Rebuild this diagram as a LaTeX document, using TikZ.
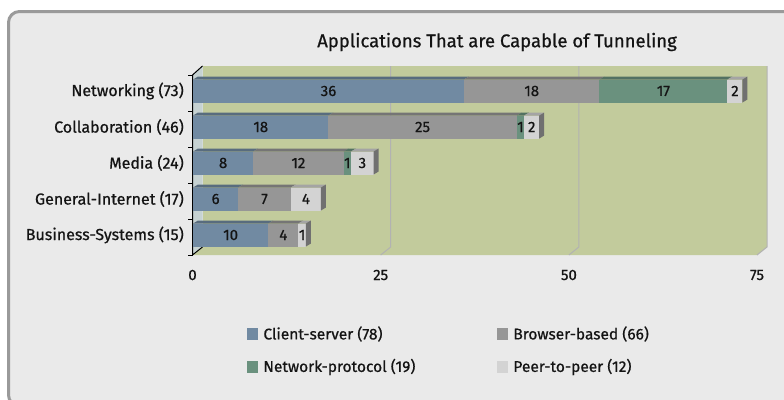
\documentclass[tikz,border=0pt]{standalone}
\usepackage{fontspec}
\setmainfont{Fira Sans}[UprightFeatures={FakeBold=0.7}]
\usepackage{xcolor}
\usetikzlibrary{calc}
\usetikzlibrary{positioning}

\definecolor{fond}{HTML}{EAEAEA}
\definecolor{cadre}{HTML}{9A9A9A}
\definecolor{mur}{HTML}{C2CB9C}
\definecolor{murgauche}{HTML}{C6D2D2}
\definecolor{grille}{HTML}{B2B2B2}
\definecolor{cscol}{HTML}{718AA2}
\definecolor{bbcol}{HTML}{969696}
\definecolor{npcol}{HTML}{6A917E}
\definecolor{ppcol}{HTML}{D3D3D3}
\definecolor{texte}{HTML}{141414}

\def\bu{7.527pt}

\begin{document}
\begin{tikzpicture}[x=1pt,y=-1pt]

\tikzset{
    seg/.style = {
    minimum height=23pt,
    inner sep=0pt,
    outer sep=0pt,
    text=texte,
    font=\fontsize{15}{17}\selectfont
    }
}

\tikzstyle{cs}=[fill=cscol, seg]
\tikzstyle{bb}=[fill=bbcol, seg]
\tikzstyle{np}=[fill=npcol, seg]
\tikzstyle{pp}=[fill=ppcol, seg]
\tikzstyle{cat}=[anchor=east, inner sep=0pt, text=texte, font=\fontsize{16}{18}\selectfont]
\tikzstyle{axe}=[inner sep=0pt, text=texte, font=\fontsize{15}{17}\selectfont]
\tikzstyle{carre}=[minimum width=11pt, minimum height=12pt, inner sep=0pt]
\tikzstyle{legende}=[inner sep=0pt, text=texte, font=\fontsize{15.5}{17}\selectfont]

\useasboundingbox (0,0) rectangle (784,399);
\clip (0,0) rectangle (784,399);
\fill[white] (0,0) rectangle (784,399);
\draw[line width=3pt, draw=cadre, fill=fond, rounded corners=11pt] (8.5,11.5) rectangle (812,406);

\node (titre) [text=texte, font=\fontsize{18.5}{21}\selectfont] at (497,42) {Applications That are Capable of Tunneling};

% murs du graphique
\fill[murgauche] (192.5,75) -- (202.5,66) -- (202.5,247) -- (192.5,255) -- cycle;
\fill[mur] (202.5,66) rectangle (767,247);
\fill[mur] (192.5,255) -- (202.5,247) -- (767,247) -- (757,255) -- cycle;
\foreach \v in {25,50,75}
    \draw[grille, line width=1pt] ({192.5+\v*7.527},255) -- ++(10,-8) -- ++(0,-181);
\draw[line width=1pt] (202.5,66) -- (192.5,75) -- (192.5,255) -- (202.5,247);
\foreach \t in {0,...,5}
    \draw[line width=1pt] (188,75+36*\t) -- (192.5,75+36*\t);

\node (ax-0) [axe] at (192.5,275) {0};
\node (ax-25) [axe] at (380.7,275) {25};
\node (ax-50) [axe] at (568.9,275) {50};
\node (ax-75) [axe] at (757,275) {75};

\node (lab-net) [cat] at (184,91) {Networking (73)};
\node (lab-col) [cat] at (184,127) {Collaboration (46)};
\node (lab-med) [cat] at (184,163) {Media (24)};
\node (lab-gen) [cat] at (184,199) {General-Internet (17)};
\node (lab-bus) [cat] at (184,235) {Business-Systems (15)};

\node (net-cs) [cs, minimum width=36*\bu, anchor=west] at (193,91) {36};
\node (net-bb) [bb, minimum width=18*\bu, right=0pt of net-cs] {18};
\node (net-np) [np, minimum width=17*\bu, right=0pt of net-bb] {17};
\node (net-pp) [pp, minimum width=2*\bu, right=0pt of net-np] {2};

\node (col-cs) [cs, minimum width=18*\bu, anchor=west] at (193,127) {18};
\node (col-bb) [bb, minimum width=25*\bu, right=0pt of col-cs] {25};
\node (col-np) [np, minimum width=1*\bu, right=0pt of col-bb] {\makebox[0pt]{1}};
\node (col-pp) [pp, minimum width=2*\bu, right=0pt of col-np] {2};

\node (med-cs) [cs, minimum width=8*\bu, anchor=west] at (193,163) {8};
\node (med-bb) [bb, minimum width=12*\bu, right=0pt of med-cs] {12};
\node (med-np) [np, minimum width=1*\bu, right=0pt of med-bb] {\makebox[0pt]{1}};
\node (med-pp) [pp, minimum width=3*\bu, right=0pt of med-np] {3};

\node (gen-cs) [cs, minimum width=6*\bu, anchor=west] at (193,199) {6};
\node (gen-bb) [bb, minimum width=7*\bu, right=0pt of gen-cs] {7};
\node (gen-pp) [pp, minimum width=4*\bu, right=0pt of gen-bb] {4};

\node (bus-cs) [cs, minimum width=10*\bu, anchor=west] at (193,235) {10};
\node (bus-bb) [bb, minimum width=4*\bu, right=0pt of bus-cs] {4};
\node (bus-pp) [pp, minimum width=1*\bu, right=0pt of bus-bb] {\makebox[0pt]{1}};

% dessus et cotes des barres
\foreach \n/\c in {net-cs/cscol, net-bb/bbcol, net-np/npcol, net-pp/ppcol,
                   col-cs/cscol, col-bb/bbcol, col-np/npcol, col-pp/ppcol,
                   med-cs/cscol, med-bb/bbcol, med-np/npcol, med-pp/ppcol,
                   gen-cs/cscol, gen-bb/bbcol, gen-pp/ppcol,
                   bus-cs/cscol, bus-bb/bbcol, bus-pp/ppcol}
    \fill[\c!78!black] (\n.north west) -- ++(5,-3) -- ($(\n.north east)+(5,-3)$) -- (\n.north east) -- cycle;
\foreach \n in {net-pp, col-pp, med-pp, gen-pp, bus-pp}
    \fill[black!56] (\n.north east) -- ++(5,-3) -- ++(0,23) -- (\n.south east) -- cycle;

\node (leg-cs) [carre, fill=cscol] at (252.5,334) {};
\node (leg-cs-txt) [legende, right=5pt of leg-cs] {Client-server (78)};
\node (leg-bb) [carre, fill=bbcol] at (502.5,334) {};
\node (leg-bb-txt) [legende, right=5pt of leg-bb] {Browser-based (66)};
\node (leg-np) [carre, fill=npcol] at (252.5,367) {};
\node (leg-np-txt) [legende, right=5pt of leg-np] {Network-protocol (19)};
\node (leg-pp) [carre, fill=ppcol] at (502.5,367) {};
\node (leg-pp-txt) [legende, right=5pt of leg-pp] {Peer-to-peer (12)};

\end{tikzpicture}
\end{document}
